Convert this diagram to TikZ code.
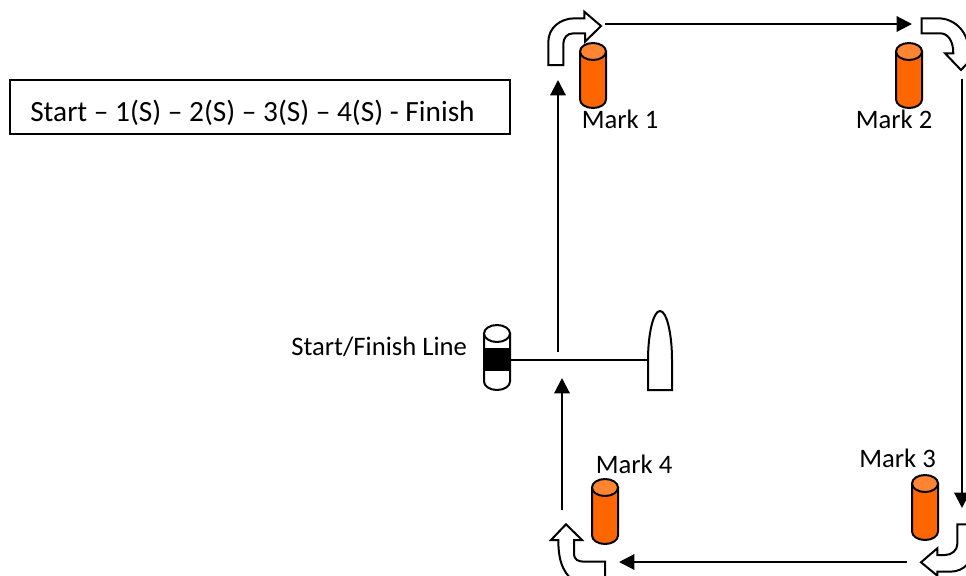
\documentclass[tikz,border=0pt]{standalone}
\usepackage{fontspec}
\setmainfont{Carlito}
\usetikzlibrary{arrows.meta}
\definecolor{markbody}{HTML}{FF6600}
\definecolor{marktop}{HTML}{FF8533}
\tikzset{
  leg/.style={-{Triangle[length=11.5pt,width=11.5pt]},line width=1.6pt},
  turn/.style={line width=1.5pt,line join=miter,fill=white},
  label/.style={font=\fontsize{20}{24}\selectfont,inner sep=0pt,anchor=west},
  pics/buoy/.style 2 args={code={
    \draw[line width=1.5pt,fill=#1] (-13,0) -- (-13,48) arc[start angle=180,end angle=360,x radius=13,y radius=-8.5] -- (13,0) -- cycle;
    \draw[line width=1.5pt,fill=#2] (0,0) ellipse[x radius=13,y radius=8.5];
  }}
}
\begin{document}
\begin{tikzpicture}[x=0.75pt,y=-0.75pt]
  \useasboundingbox (0,0) rectangle (966,575);
  \clip (0,0) rectangle (966,575);

  % Course box
  \node[draw,line width=0.9pt,minimum width=375pt,minimum height=40.5pt,inner sep=0pt] (course) at (260,107) {};
  \node[label,font=\fontsize{22}{26}\selectfont] (coursetext) at (30,113) {Start – 1(S) – 2(S) – 3(S) – 4(S) - Finish};

  % Marks
  \foreach \name/\x/\y/\lx/\ly in {1/593/51.5/581.5/119,2/909/51.5/855.5/119,3/925/483.5/859/458.5,4/605/487.5/595.5/464.5} {
    \pic at (\x,\y) {buoy={markbody}{marktop}};
    \node[label] (marklabel\name) at (\lx,\ly) {Mark \name};
  }

  % Start/finish line
  \pic at (497,333.5) {buoy={white}{white}};
  \fill (483.5,348) rectangle (510.5,371);
  \node[label] (linelabel) at (291,347) {Start/Finish Line};
  \draw[line width=1.5pt,fill=white] (648,390) coordinate (boatstern) -- (648,360) coordinate (boatside)
    .. controls (648,335) and (653,311) .. (660,311)
    .. controls (667,311) and (672,335) .. (672,360) -- (672,390) -- cycle;
  \draw[line width=1.5pt] (510.5,360) coordinate (pinside) -- (boatside);

  % Legs
  \coordinate (a0) at (562,510);  \coordinate (a1) at (562,378);
  \coordinate (b0) at (558,352);  \coordinate (b1) at (558,80);
  \coordinate (c0) at (605,24);   \coordinate (c1) at (912,24);
  \coordinate (d0) at (962,79);   \coordinate (d1) at (962,508);
  \coordinate (e0) at (907,562);  \coordinate (e1) at (619,562);
  \foreach \p/\q in {a0/a1,b0/b1,c0/c1,d0/d1,e0/e1} {
    \draw[leg] (\p) -- (\q);
  }

  % Turn arrows
  \draw[turn] (548.3,65) -- (548.3,42) .. controls (548.3,28) and (560,18.3) .. (575,18.3)
    -- (584.3,18.3) -- (584.3,11.7) -- (601,26) -- (585,41.7) -- (585,33.3) -- (573.5,33.3)
    .. controls (567,33.3) and (563.3,38) .. (563.3,44) -- (563.3,65) -- cycle;
  \draw[turn] (921.7,18.3) -- (938,18.3) .. controls (955,18.3) and (969,32) .. (969,53.3)
    -- (976.7,53.3) -- (961,70) -- (945,53.3) -- (953.3,53.3)
    .. controls (953.3,41) and (948,33.3) .. (940,33.3) -- (921.7,33.3) -- cycle;
  \draw[turn] (957.3,524.3) -- (957.3,544) .. controls (957.3,550) and (952,555) .. (945,555)
    -- (937.3,555) -- (937.3,548.3) -- (921,562.3) -- (937.3,575.7) -- (937.3,571.7) -- (950,571.7)
    .. controls (965,571.7) and (973,560) .. (973,550) -- (973,524.3) -- cycle;
  \draw[turn] (566,524.3) -- (582,540) -- (574,540) -- (574,553) .. controls (574,560) and (578,561.7) .. (585,561.7)
    -- (605,561.7) -- (605,585) -- (578,585) .. controls (565,575) and (558.3,565) .. (558.3,540)
    -- (551,540) -- cycle;
\end{tikzpicture}
\end{document}
